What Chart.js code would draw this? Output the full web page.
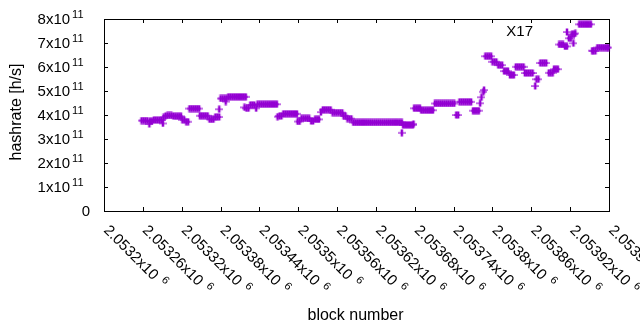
<!DOCTYPE html>
<html>
<head>
<meta charset="utf-8">
<script src="https://cdn.jsdelivr.net/npm/chart.js@4.4.0/dist/chart.umd.min.js"></script>
<style>
  body { margin: 0; background: #fff; }
  #wrap { width: 640px; height: 330px; }
</style>
</head>
<body>
<div id="wrap"><canvas id="chart" width="640" height="330"></canvas></div>
<script>
// block numbers and hashrate (in units of 1e11 h/s)
var blockNumbers = [
  2053258, 2053261, 2053264, 2053267, 2053270, 2053271, 2053274, 2053277, 2053280, 2053283,
  2053286, 2053289, 2053291, 2053292, 2053295, 2053298, 2053301, 2053304, 2053307, 2053310,
  2053313, 2053316, 2053319, 2053321, 2053324, 2053327, 2053330, 2053332, 2053335, 2053338,
  2053341, 2053344, 2053347, 2053348, 2053351, 2053354, 2053357, 2053360, 2053363, 2053366,
  2053369, 2053372, 2053375, 2053378, 2053378, 2053380, 2053383, 2053386, 2053388, 2053389,
  2053392, 2053395, 2053398, 2053401, 2053404, 2053407, 2053410, 2053413, 2053416, 2053419,
  2053417, 2053420, 2053423, 2053426, 2053429, 2053432, 2053435, 2053437, 2053440, 2053443,
  2053446, 2053449, 2053452, 2053455, 2053458, 2053461, 2053464, 2053467, 2053468, 2053471,
  2053474, 2053477, 2053480, 2053483, 2053486, 2053489, 2053492, 2053495, 2053498, 2053499,
  2053502, 2053505, 2053508, 2053511, 2053514, 2053517, 2053520, 2053523, 2053526, 2053529,
  2053532, 2053535, 2053538, 2053541, 2053544, 2053547, 2053550, 2053553, 2053556, 2053559,
  2053562, 2053565, 2053568, 2053570, 2053573, 2053576, 2053579, 2053582, 2053585, 2053588,
  2053591, 2053594, 2053597, 2053600, 2053603, 2053606, 2053609, 2053612, 2053615, 2053618,
  2053621, 2053624, 2053627, 2053630, 2053633, 2053636, 2053639, 2053642, 2053645, 2053648,
  2053651, 2053654, 2053657, 2053660, 2053660, 2053662, 2053665, 2053668, 2053671, 2053674,
  2053677, 2053678, 2053679, 2053682, 2053685, 2053688, 2053690, 2053693, 2053696, 2053699,
  2053702, 2053705, 2053708, 2053711, 2053714, 2053717, 2053720, 2053723, 2053726, 2053729,
  2053732, 2053735, 2053738, 2053741, 2053744, 2053747, 2053749, 2053752, 2053755, 2053758,
  2053761, 2053764, 2053767, 2053770, 2053773, 2053776, 2053779, 2053781, 2053783, 2053786,
  2053787, 2053789, 2053792, 2053795, 2053798, 2053800, 2053803, 2053806, 2053809, 2053812,
  2053815, 2053818, 2053821, 2053824, 2053827, 2053830, 2053833, 2053836, 2053839, 2053842,
  2053845, 2053848, 2053850, 2053853, 2053856, 2053859, 2053862, 2053866, 2053868, 2053871,
  2053874, 2053877, 2053880, 2053883, 2053887, 2053890, 2053893, 2053895, 2053898, 2053901,
  2053903, 2053906, 2053909, 2053912, 2053915, 2053918, 2053921, 2053923, 2053925, 2053926,
  2053928, 2053934, 2053937, 2053940, 2053943, 2053946, 2053949, 2053952, 2053954, 2053956,
  2053959, 2053962, 2053965, 2053968, 2053971, 2053974, 2053977, 2053979
];
var hashrateE11 = [
  3.77, 3.77, 3.77, 3.77, 3.63, 3.74, 3.74, 3.79, 3.79, 3.79,
  3.79, 3.79, 3.65, 3.90, 3.96, 3.98, 3.98, 3.98, 3.96, 3.95,
  3.95, 3.95, 3.95, 3.80, 3.80, 3.72, 3.72, 4.27, 4.27, 4.27,
  4.27, 4.27, 4.27, 3.97, 3.97, 3.97, 3.97, 3.97, 3.82, 3.82,
  3.82, 3.92, 3.92, 3.92, 4.24, 4.69, 4.69, 4.69, 4.56, 4.69,
  4.76, 4.76, 4.76, 4.76, 4.76, 4.76, 4.76, 4.76, 4.76, 4.76,
  4.32, 4.28, 4.28, 4.42, 4.42, 4.42, 4.28, 4.45, 4.45, 4.45,
  4.45, 4.45, 4.45, 4.45, 4.45, 4.45, 4.45, 4.45, 3.93, 3.96,
  3.96, 4.05, 4.05, 4.05, 4.05, 4.05, 4.05, 4.05, 4.05, 3.73,
  3.73, 3.86, 3.86, 3.86, 3.86, 3.86, 3.75, 3.75, 3.82, 3.82,
  3.82, 4.12, 4.22, 4.22, 4.22, 4.22, 4.22, 4.10, 4.10, 4.10,
  4.10, 4.10, 4.10, 3.97, 3.97, 3.85, 3.85, 3.85, 3.69, 3.69,
  3.69, 3.69, 3.69, 3.69, 3.69, 3.69, 3.69, 3.69, 3.69, 3.69,
  3.69, 3.69, 3.69, 3.69, 3.69, 3.69, 3.69, 3.69, 3.69, 3.69,
  3.69, 3.69, 3.69, 3.69, 3.26, 3.59, 3.59, 3.59, 3.59, 3.59,
  3.59, 3.63, 4.28, 4.28, 4.28, 4.28, 4.20, 4.20, 4.20, 4.20,
  4.20, 4.20, 4.20, 4.48, 4.48, 4.48, 4.48, 4.48, 4.48, 4.48,
  4.48, 4.48, 4.48, 4.48, 4.00, 4.00, 4.55, 4.55, 4.55, 4.55,
  4.55, 4.55, 4.55, 4.18, 4.18, 4.18, 4.18, 4.49, 4.74, 4.97,
  5.04, 6.45, 6.45, 6.45, 6.45, 6.22, 6.22, 6.22, 6.08, 6.08,
  6.08, 5.83, 5.83, 5.83, 5.67, 5.67, 5.67, 6.01, 6.01, 6.01,
  6.01, 6.01, 5.75, 5.75, 5.75, 5.75, 5.75, 5.21, 5.49, 5.49,
  6.17, 6.17, 6.17, 6.17, 5.76, 5.76, 5.76, 5.91, 5.91, 5.91,
  6.94, 6.94, 6.94, 6.86, 6.86, 7.20, 7.20, 7.37, 6.99, 7.37,
  7.40, 7.78, 7.78, 7.78, 7.78, 7.78, 7.78, 7.78, 6.68, 6.67,
  6.67, 6.81, 6.81, 6.81, 6.81, 6.81, 6.81, 6.81
];

var seriesName = "X17";
var xTitle = "block number";
var yTitle = "hashrate [h/s]";

var xTicks = [2053200, 2053260, 2053320, 2053380, 2053440, 2053500, 2053560,
  2053620, 2053680, 2053740, 2053800, 2053860, 2053920, 2053980];
var xTickLabels = ["2.0532x10", "2.05326x10", "2.05332x10", "2.05338x10", "2.05344x10",
  "2.0535x10", "2.05356x10", "2.05362x10", "2.05368x10", "2.05374x10", "2.0538x10",
  "2.05386x10", "2.05392x10", "2.05398x10"];
var xTickExp = "6";
var yTicks = [0, 1e11, 2e11, 3e11, 4e11, 5e11, 6e11, 7e11, 8e11];
var yTickLabels = ["0", "1x10", "2x10", "3x10", "4x10", "5x10", "6x10", "7x10", "8x10"];
var yTickExp = ["", "11", "11", "11", "11", "11", "11", "11", "11"];

var points = blockNumbers.map(function (b, i) {
  return { x: b, y: hashrateE11[i] * 1e11 };
});

var FONT = "'Liberation Sans', Arial, sans-serif";
var violet = "#9400d3";

// gnuplot "+" marker: vertical arm a bit wider so dense runs fill solid
var plus = document.createElement("canvas");
plus.width = 8;
plus.height = 8;
var pctx = plus.getContext("2d");
pctx.fillStyle = violet;
pctx.fillRect(0, 3.5, 8, 1.1);
pctx.fillRect(2.75, 0.5, 2.5, 7);

// gnuplot style frame, inward ticks, labels and key
var gnuplotLook = {
  id: "gnuplotLook",
  beforeDatasetsDraw: function (chart) {
    var ctx = chart.ctx, a = chart.chartArea;
    var xs = chart.scales.x, ys = chart.scales.y;
    ctx.save();
    ctx.strokeStyle = "#000";
    ctx.lineWidth = 1;
    ctx.strokeRect(a.left + 0.5, a.top + 0.5, a.right - a.left, a.bottom - a.top);
    ctx.beginPath();
    xTicks.forEach(function (v) {
      var x = Math.round(xs.getPixelForValue(v)) + 0.5;
      ctx.moveTo(x, a.bottom); ctx.lineTo(x, a.bottom - 4);
      ctx.moveTo(x, a.top); ctx.lineTo(x, a.top + 4);
    });
    yTicks.forEach(function (v) {
      var y = Math.round(ys.getPixelForValue(v)) + 0.5;
      ctx.moveTo(a.left, y); ctx.lineTo(a.left + 4, y);
      ctx.moveTo(a.right, y); ctx.lineTo(a.right - 4, y);
    });
    ctx.stroke();

    // y tick labels
    ctx.fillStyle = "#000";
    ctx.textBaseline = "middle";
    yTicks.forEach(function (v, i) {
      var y = ys.getPixelForValue(v);
      if (!yTickExp[i]) {
        ctx.font = "15px " + FONT;
        ctx.textAlign = "right";
        ctx.fillText(yTickLabels[i], a.left - 14, y + 1);
        return;
      }
      ctx.font = "11px " + FONT;
      ctx.textAlign = "right";
      var supRight = a.left - 20.5;
      ctx.fillText(yTickExp[i], supRight, y - 4);
      var supW = ctx.measureText(yTickExp[i]).width;
      ctx.font = "15px " + FONT;
      ctx.fillText(yTickLabels[i], supRight - supW - 2, y + 1);
    });

    // x tick labels, rotated -45 degrees
    ctx.textAlign = "left";
    ctx.textBaseline = "alphabetic";
    xTicks.forEach(function (v, i) {
      var x = xs.getPixelForValue(v);
      ctx.save();
      ctx.translate(x - 1, a.bottom + 20);
      ctx.rotate(Math.PI / 4);
      ctx.font = "15px " + FONT;
      ctx.fillText(xTickLabels[i], 0, 0);
      var w = ctx.measureText(xTickLabels[i]).width;
      ctx.font = "11px " + FONT;
      ctx.fillText(xTickExp, w + 6, -6);
      ctx.restore();
    });

    // axis titles
    ctx.font = "16px " + FONT;
    ctx.textAlign = "center";
    ctx.textBaseline = "middle";
    ctx.fillText(xTitle, (a.left + a.right) / 2 - 1, 316);
    ctx.save();
    ctx.translate(17, 112);
    ctx.rotate(-Math.PI / 2);
    ctx.fillText(yTitle, 0, 0);
    ctx.restore();

    // key
    ctx.font = "15px " + FONT;
    ctx.textAlign = "right";
    ctx.fillText(seriesName, 533, 32);
    ctx.drawImage(plus, 563, 28);
    ctx.restore();
  }
};

new Chart(document.getElementById("chart"), {
  type: "scatter",
  data: {
    datasets: [{
      label: seriesName,
      data: points,
      showLine: false,
      pointStyle: plus,
      pointRadius: 4,
      borderColor: violet,
      backgroundColor: violet,
      clip: 5
    }]
  },
  options: {
    responsive: false,
    animation: false,
    events: [],
    layout: { padding: { left: 104, right: 31, top: 19, bottom: 119 } },
    plugins: { legend: { display: false }, tooltip: { enabled: false } },
    scales: {
      x: { type: "linear", min: 2053200, max: 2053980, display: false },
      y: { type: "linear", min: 0, max: 8e11, display: false }
    }
  },
  plugins: [gnuplotLook]
});
</script>
</body>
</html>
